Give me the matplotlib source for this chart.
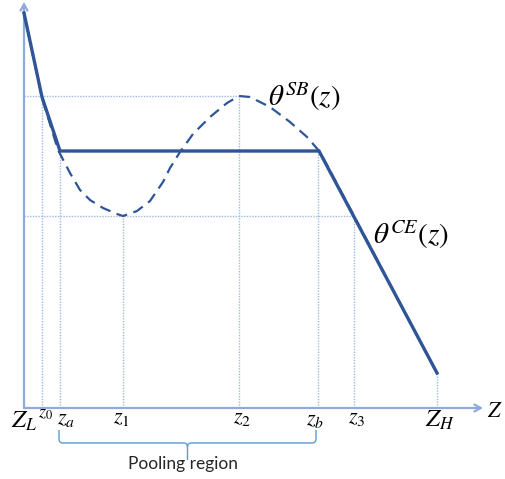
import numpy as np
import matplotlib.pyplot as plt
from matplotlib.path import Path
from matplotlib.patches import PathPatch

plt.rcParams['mathtext.fontset'] = 'stix'
plt.rcParams['font.family'] = ['Lato', 'DejaVu Sans']

# %%
# 곡선 데이터 (z, theta) - 그림에서 읽은 값
sb_z = [0, 18, 34, 46, 56, 66, 79, 93, 99, 113, 126, 139, 146, 156, 169, 186,
        203, 215, 226, 246, 266, 283, 296, 330, 413]
sb_theta = [395, 310, 258, 235, 218, 208, 200, 194, 192, 197, 207, 226, 240,
            256, 274, 291, 305, 312, 311, 301, 286, 271, 256, 192, 35]

ce_z = [0, 18, 36, 295, 413]
ce_theta = [395, 311, 257, 257, 35]

# 축 눈금 위치와 라벨
z_ticks = [0, 18, 36, 99, 215, 294, 330, 413]
tick_labels = ['$Z_L$', '$z_0$', '$z_a$', '$z_1$', '$z_2$', '$z_b$', '$z_3$', '$Z_H$']
guide_top = [0, 312, 257, 192, 312, 257, 192, 35]   # 점선이 올라가는 높이

# 수평 점선 (theta 값, 끝나는 z)
h_levels = [312, 192]
h_ends = [215, 330]

# %%
dark = '#2F5597'
axis_col = '#8FAADC'
guide_col = '#9DB8E2'

fig = plt.figure(figsize=(5.06, 4.79), dpi=100)
ax = fig.add_axes([0, 0, 1, 1])
ax.set_xlim(-24, 482)
ax.set_ylim(-71, 408)
ax.axis('off')

# 보조 점선
for zt, top in zip(z_ticks[1:], guide_top[1:]):
    ax.plot([zt, zt], [0, top], color=guide_col, lw=1, ls=(0, (1, 1)), zorder=1)
for lv, ze in zip(h_levels, h_ends):
    ax.plot([0, ze], [lv, lv], color=guide_col, lw=1, ls=(0, (1, 1)), zorder=1)

# 축 화살표
arrow = dict(arrowstyle='->,head_length=0.45,head_width=0.25', color=axis_col,
             lw=1.6, shrinkA=0, shrinkB=0)
ax.annotate('', xy=(0, 406), xytext=(0, 0), arrowprops=arrow)
ax.annotate('', xy=(459, 0), xytext=(0, 0), arrowprops=arrow)

# 곡선
ax.plot(sb_z, sb_theta, color=dark, lw=1.6, ls=(0, (5, 3)), zorder=3)
ax.plot(ce_z, ce_theta, color=dark, lw=2.4, zorder=4, solid_joinstyle='miter')

# 곡선 라벨
ax.text(244, 311, r'$\theta^{SB}(z)$', fontsize=21, ha='left', va='center')
ax.text(349, 173, r'$\theta^{CE}(z)$', fontsize=21, ha='left', va='center')

# 눈금 라벨
label_x = [0, 21, 42, 97, 218, 291, 333, 416]
label_y = [-20, -10, -16, -15, -15, -17, -15, -19]
label_fs = [18, 13, 16, 16, 16, 16, 16, 18]
for lx, ly, lab, fs in zip(label_x, label_y, tick_labels, label_fs):
    ax.text(lx, ly, lab, fontsize=fs, ha='center', va='baseline')
ax.text(463, -9, '$Z$', fontsize=16, ha='left', va='baseline')

# 괄호 (Pooling region)
za, zb = 35, 292
zm = (za + zb) / 2
r = 4
verts = [(za, -22), (za, -35 + r), (za, -35), (za + r, -35), (zm - r, -35),
         (zm, -35), (zm, -35 - r), (zm, -52),
         (zm, -35 - r), (zm, -35), (zm + r, -35), (zb - r, -35),
         (zb, -35), (zb, -35 + r), (zb, -22)]
codes = [Path.MOVETO, Path.LINETO, Path.CURVE3, Path.CURVE3, Path.LINETO,
         Path.CURVE3, Path.CURVE3, Path.LINETO,
         Path.MOVETO, Path.CURVE3, Path.CURVE3, Path.LINETO,
         Path.CURVE3, Path.CURVE3, Path.LINETO]
ax.add_patch(PathPatch(Path(verts, codes), fill=False, edgecolor='#5B9BD5', lw=1))
ax.text(zm - 4, -56, 'Pooling region', fontsize=12.5, ha='center', va='center',
        color='#262626')

plt.savefig('out.png', dpi=100)
